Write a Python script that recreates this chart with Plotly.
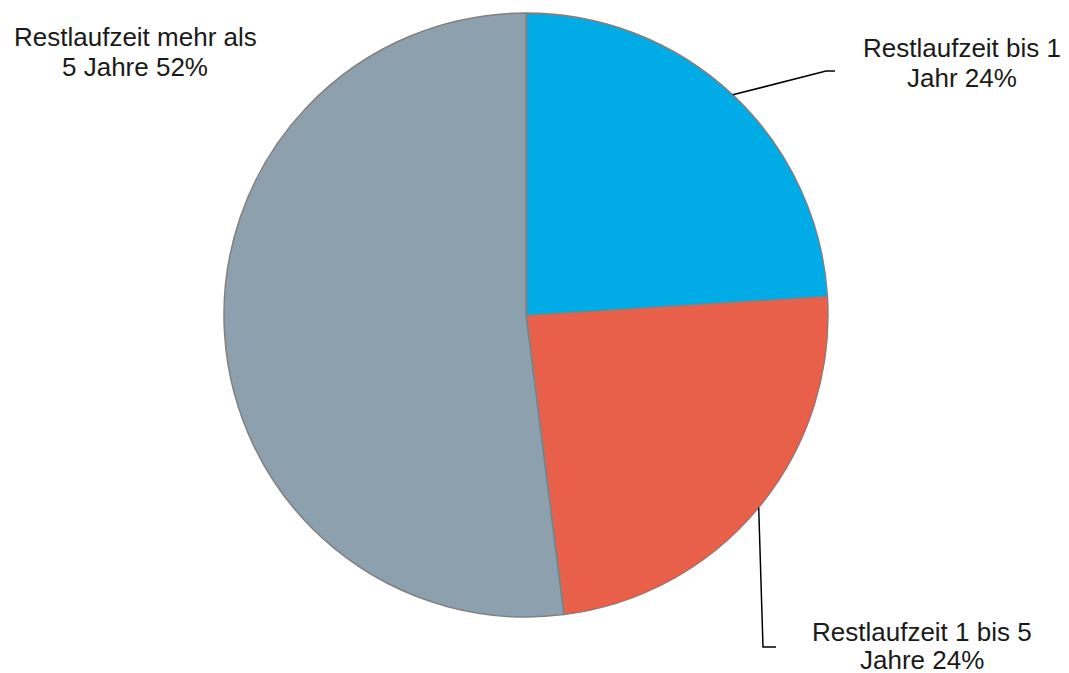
import math
import plotly.graph_objects as go

labels = ["Restlaufzeit bis 1 Jahr", "Restlaufzeit 1 bis 5 Jahre", "Restlaufzeit mehr als 5 Jahre"]
values = [24, 24, 52]
colors = ["#00ABE6", "#E8604A", "#8CA1AD"]
label_lines = [
    ["Restlaufzeit bis 1", "Jahr 24%"],
    ["Restlaufzeit 1 bis 5", "Jahre 24%"],
    ["Restlaufzeit mehr als", "5 Jahre 52%"],
]

W, H = 1069, 673
OFF = 8  # page body margin of the html page
CX, CY, R = 526, 315, 302

def px(x):
    return (x - OFF) / W

def py(y):
    return 1 - (y - OFF) / H

fig = go.Figure(go.Pie(
    labels=labels, values=values, sort=False, direction="clockwise", rotation=0,
    marker=dict(colors=colors, line=dict(color="#808080", width=1.5)),
    textinfo="none", hoverinfo="label+percent", showlegend=False,
    domain=dict(x=[px(CX - R), px(CX + R)], y=[py(CY + R), py(CY - R)]),
))

# leader lines: start at slice mid-angle on the rim
total = sum(values)
mids = []
acc = 0
for v in values:
    mids.append((acc + v / 2) / total * 2 * math.pi)
    acc += v

def rim(i):
    a = mids[i]
    return CX + R * math.sin(a), CY - R * math.cos(a)

shapes = []
x0, y0 = rim(0)
shapes.append(dict(type="path", xref="paper", yref="paper",
                   path=f"M {px(x0)},{py(y0)} L {px(826)},{py(71)} L {px(835)},{py(71)}",
                   line=dict(color="black", width=1.5)))
x1, y1 = rim(1)
shapes.append(dict(type="path", xref="paper", yref="paper",
                   path=f"M {px(x1)},{py(y1)} L {px(763)},{py(647)} L {px(776)},{py(647)}",
                   line=dict(color="black", width=1.5)))

font = dict(family="Liberation Sans, Arial, sans-serif", size=26, color="#1a1a1a")
label_pos = [(962, 48, 78), (922, 632, 660), (135, 37, 67)]
annos = []
for (x, ya, yb), lines in zip(label_pos, label_lines):
    for y, t in zip((ya, yb), lines):
        annos.append(dict(x=px(x), y=py(y), text=t, xref="paper", yref="paper",
                          showarrow=False, font=font, xanchor="center",
                          yanchor="middle", align="center"))

fig.update_layout(width=W, height=H, margin=dict(l=0, r=0, t=0, b=0),
                  paper_bgcolor="white", plot_bgcolor="white",
                  shapes=shapes, annotations=annos)
fig.write_html("out.html")
